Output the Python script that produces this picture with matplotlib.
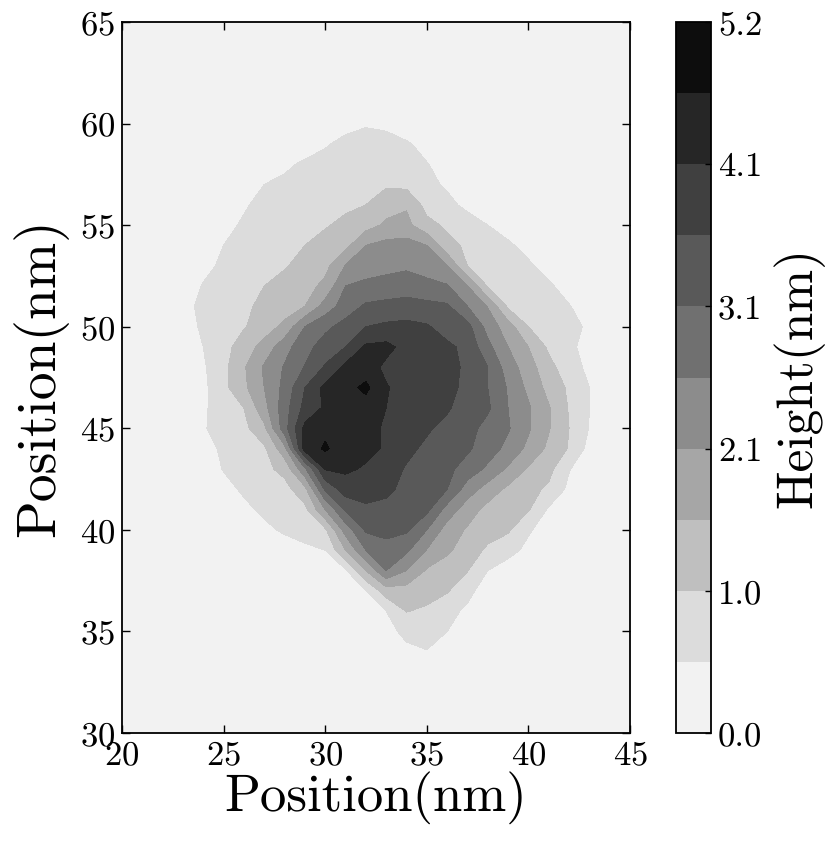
import matplotlib
matplotlib.use("Agg")
import numpy as np
import matplotlib.pyplot as plt

# Height map, x is 22..45 nm and y is 60 down to 33 nm
x_nm = [22, 23, 24, 25, 26, 27, 28, 29, 30, 31, 32, 33, 34, 35, 36, 37, 38, 39, 40, 41, 42, 43, 44, 45]
y_nm = [60, 59, 58, 57, 56, 55, 54, 53, 52, 51, 50, 49, 48, 47, 46, 45, 44, 43, 42, 41, 40, 39, 38, 37, 36, 35, 34, 33]
height = [
    [0, 0, 0, 0, 0, 0, 0, 0, .1, .3, .45, .35, .1, 0, 0, 0, 0, 0, 0, 0, 0, 0, 0, 0],
    [0, 0, 0, 0, 0, 0, 0, .2, .45, .7, .8, .8, .6, .3, 0, 0, 0, 0, 0, 0, 0, 0, 0, 0],
    [0, 0, 0, 0, 0, .3, .4, .62, .75, .85, .9, .9, .75, .55, .25, 0, 0, 0, 0, 0, 0, 0, 0, 0],
    [0, 0, 0, 0, .2, .52, .65, .7, .8, .9, .95, .97, .9, .65, .45, .2, 0, 0, 0, 0, 0, 0, 0, 0],
    [0, 0, 0, .2, .45, .7, .75, .8, .85, .95, 1.04, 1.35, 1.5, .85, .65, .4, .3, 0, 0, 0, 0, 0, 0, 0],
    [0, 0, 0, .35, .6, .7, .8, .9, 1.0, 1.15, 1.35, 1.65, 1.7, 1.2, .95, .75, .52, .3, 0, 0, 0, 0, 0, 0],
    [0, 0, .25, .52, .65, .75, .9, 1.04, 1.2, 1.4, 2.08, 2.25, 2.3, 2.08, 1.2, .95, .8, .6, .35, 0, 0, 0, 0, 0],
    [0, .2, .4, .6, .72, .85, 1.0, 1.2, 1.4, 2.1, 2.3, 2.4, 2.5, 2.3, 2.08, 1.04, .9, .75, .6, .3, 0, 0, 0, 0],
    [0, .25, .55, .7, .85, 1.04, 1.2, 1.35, 1.7, 2.6, 2.75, 2.85, 2.9, 2.8, 2.65, 2.08, 1.0, .9, .8, .6, .3, 0, 0, 0],
    [0, .35, .65, .75, .95, 1.15, 1.3, 1.56, 2.3, 2.85, 3.2, 3.25, 3.3, 3.25, 3.2, 2.6, 2.05, .95, .85, .7, .55, .25, 0, 0],
    [0, .3, .6, .8, 1.0, 1.3, 1.7, 2.6, 3.0, 3.3, 3.64, 3.75, 3.8, 3.7, 3.4, 3.3, 2.4, 1.8, 1.04, .85, .65, .45, .1, 0],
    [0, .2, .52, .85, 1.3, 1.75, 2.4, 2.95, 3.35, 3.64, 4.25, 4.3, 4.0, 3.9, 3.75, 3.5, 2.75, 2.08, 1.56, .95, .65, .3, 0, 0],
    [0, .15, .45, .9, 1.5, 2.15, 2.65, 3.15, 3.7, 4.3, 4.4, 4.05, 3.95, 3.9, 3.8, 3.55, 3.12, 2.35, 1.8, 1.2, .75, .4, 0, 0],
    [0, .1, .4, .9, 1.45, 2.08, 2.75, 3.64, 4.3, 4.5, 4.8, 4.2, 3.95, 3.9, 3.8, 3.5, 3.12, 2.55, 1.95, 1.4, .95, .52, .2, 0],
    [0, .1, .45, .75, 1.04, 1.9, 2.9, 3.8, 4.25, 4.35, 4.45, 4.16, 3.95, 3.85, 3.7, 3.4, 3.2, 2.6, 2.15, 1.6, 1.0, .52, .2, 0],
    [0, .1, .48, .7, .9, 1.45, 2.9, 4.3, 4.55, 4.35, 4.3, 4.1, 3.85, 3.7, 3.5, 3.3, 2.95, 2.65, 2.15, 1.6, 1.04, .5, .15, 0],
    [0, 0, .35, .6, .8, .95, 1.9, 4.4, 4.75, 4.4, 4.3, 4.1, 3.75, 3.55, 3.4, 3.2, 2.85, 2.45, 1.95, 1.45, 1.0, .35, 0, 0],
    [0, 0, .2, .55, .75, .9, 1.2, 2.5, 4.2, 4.25, 4.1, 3.85, 3.6, 3.4, 3.25, 2.9, 2.5, 2.0, 1.5, 1.2, .55, .2, 0, 0],
    [0, 0, 0, .35, .6, .75, .85, 1.4, 3.2, 3.9, 3.85, 3.75, 3.5, 3.3, 3.12, 2.35, 1.85, 1.45, 1.2, .95, .4, 0, 0, 0],
    [0, 0, 0, 0, .4, .62, .75, .9, 2.08, 3.2, 3.55, 3.5, 3.35, 3.25, 2.4, 1.8, 1.4, 1.2, 1.08, .45, 0, 0, 0, 0],
    [0, 0, 0, 0, 0, .4, .6, .75, .95, 2.3, 3.2, 3.3, 3.2, 2.6, 1.85, 1.5, 1.25, 1.1, .6, .2, 0, 0, 0, 0],
    [0, 0, 0, 0, 0, 0, .25, .4, .52, 1.56, 2.6, 2.9, 2.7, 2.05, 1.65, 1.3, .95, .75, .35, 0, 0, 0, 0, 0],
    [0, 0, 0, 0, 0, 0, 0, 0, .2, .45, 1.56, 2.6, 2.08, 1.5, 1.3, 1.06, .52, .2, 0, 0, 0, 0, 0, 0],
    [0, 0, 0, 0, 0, 0, 0, 0, 0, .25, .52, 1.3, 1.35, 1.25, 1.08, .7, .2, 0, 0, 0, 0, 0, 0, 0],
    [0, 0, 0, 0, 0, 0, 0, 0, 0, 0, .25, .52, 1.06, .95, .72, .4, 0, 0, 0, 0, 0, 0, 0, 0],
    [0, 0, 0, 0, 0, 0, 0, 0, 0, 0, 0, .35, .65, .7, .52, .15, 0, 0, 0, 0, 0, 0, 0, 0],
    [0, 0, 0, 0, 0, 0, 0, 0, 0, 0, 0, 0, .4, .5, .2, 0, 0, 0, 0, 0, 0, 0, 0, 0],
    [0, 0, 0, 0, 0, 0, 0, 0, 0, 0, 0, 0, 0, 0, 0, 0, 0, 0, 0, 0, 0, 0, 0, 0],
]

levels = [0, .52, 1.04, 1.56, 2.08, 2.6, 3.12, 3.64, 4.16, 4.68, 5.2]
band_colors = ["#f2f2f2", "#dcdcdc", "#bfbfbf", "#a6a6a6", "#8c8c8c",
               "#707070", "#595959", "#404040", "#262626", "#0d0d0d"]
cbar_ticks = [0, 1.04, 2.08, 3.12, 4.16, 5.2]
cbar_labels = ["0.0", "1.0", "2.1", "3.1", "4.1", "5.2"]
x_ticks = [20, 25, 30, 35, 40, 45]
y_ticks = [30, 35, 40, 45, 50, 55, 60, 65]

plt.rcParams['font.family'] = ['cmr10', 'DejaVu Sans']
plt.rcParams['mathtext.fontset'] = 'cm'
plt.rcParams['axes.unicode_minus'] = False
plt.rcParams['axes.formatter.use_mathtext'] = True
plt.rcParams['text.hinting'] = 'none'
plt.rcParams['text.hinting_factor'] = 1

W, H = 836, 842
fig = plt.figure(figsize=(W / 100, H / 100), dpi=100)
ax = fig.add_axes([122 / W, (H - 733) / H, (630 - 122) / W, (733 - 22) / H])
cax = fig.add_axes([676 / W, (H - 733) / H, (711 - 676) / W, (733 - 22) / H])

ax.set_facecolor(band_colors[0])
cs = ax.contourf(x_nm, y_nm, np.array(height), levels=levels, colors=band_colors)
ax.set_xlim(20, 45)
ax.set_ylim(30, 65)
ax.set_xticks(x_ticks)
ax.set_yticks(y_ticks)
ax.tick_params(direction='in', top=True, right=True, length=6, width=1, labelsize=25, pad=5)
ax.set_xlabel("Position(nm)", fontsize=38, labelpad=0)
ax.set_ylabel("Position(nm)", fontsize=40, labelpad=8)
for s in ax.spines.values():
    s.set_linewidth(1.3)

cbar = fig.colorbar(cs, cax=cax, ticks=cbar_ticks)
cbar.ax.set_yticklabels(cbar_labels)
cbar.ax.tick_params(direction='in', length=4, width=1, labelsize=25, pad=5)
cbar.set_label("Height(nm)", fontsize=37, labelpad=8)
cbar.outline.set_linewidth(1.3)

fig.savefig("out.png", dpi=100)
